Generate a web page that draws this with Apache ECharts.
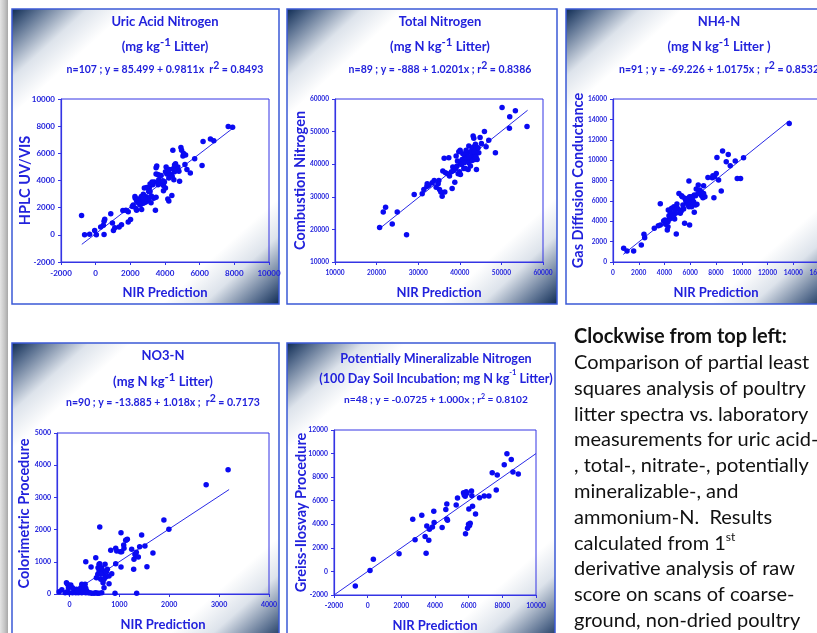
<!DOCTYPE html>
<html>
<head>
<meta charset="utf-8">
<title>NIR vs laboratory N</title>
<script src="https://cdn.jsdelivr.net/npm/echarts@6/dist/echarts.min.js"></script>
<style>
html, body { margin: 0; padding: 0; background: #fff; }
#main { width: 817px; height: 633px; }
</style>
</head>
<body>
<div id="main"></div>
<script>
// measured (lab) vs NIR predicted, one array per panel: [NIR, lab]
var uricPts = [[-813,1420],[-639,0],[-349,50],[-58,324],[39,0],[484,25],[445,698],[523,1146],[484,997],[871,1545],[968,872],[1026,324],[1103,523],[1491,748],[1568,1794],[1742,1819],[1878,947],[2013,1121],[2110,2093],[2168,2193],[2285,2692],[2362,1819],[2362,2492],[2517,2393],[2652,1869],[2672,2492],[2750,2991],[2808,3439],[2866,2393],[2943,2791],[3001,2492],[3098,3489],[3137,3190],[3195,2368],[3292,3688],[3350,2692],[3447,1819],[3485,2766],[3388,3888],[3485,4935],[3524,5059],[3582,4436],[3679,3888],[3776,4361],[3834,3738],[3911,3639],[4027,3439],[3969,3888],[4066,4985],[4163,2642],[4221,2492],[4260,4810],[4337,4436],[4395,2891],[4453,6231],[4511,4062],[4550,4635],[4608,5234],[4744,4985],[4841,3938],[4918,6430],[4957,6231],[5034,5807],[5189,5882],[5150,5184],[5266,4810],[5460,4561],[5712,5608],[6138,5109],[6196,6879],[6622,7053],[6816,6928],[7648,7975],[7899,7925],
  [2265,2816],[2459,2642],[2633,2816],[2750,2318],[3059,2642],[3214,2866],[2943,3489],[3137,3738],[3253,3888],[3640,4062],[3872,3988],[4105,4486],[4221,4187],[4414,4311],[4492,4885],[4647,4810],[4802,4686],[3911,3240],[3601,3688],[2323,1944],[2575,2193],[2866,2642],[1878,1695],[290,573],[1355,573],[4550,5134],[5073,5981],[3485,4486],[4027,4635],[4182,4735],[3679,4386],[2750,2741],[2478,2318],[3059,3190]];

var totalPts = [[20720,20620],[21600,25350],[22160,26790],[23760,21640],[24960,25350],[27200,18360],[29040,30690],[30960,30900],[31360,32230],[32160,33980],[32080,33160],[33840,35010],[34320,32950],[34960,35010],[35120,32230],[35440,31510],[35760,30180],[36400,31510],[35920,37890],[36240,41790],[37360,42000],[36560,37380],[37520,36350],[38160,32540],[38800,34490],[38560,38090],[39120,42510],[39360,39430],[39600,37070],[39920,37680],[40080,44260],[40160,40460],[40560,41480],[40960,38710],[41200,42510],[41360,40970],[41760,43540],[42000,38400],[42160,45600],[42320,41480],[42560,39430],[42800,42510],[42960,44570],[43200,48680],[43360,47960],[43600,43030],[43760,46110],[44000,44570],[44160,41480],[44000,38400],[44560,43540],[44880,48160],[45200,46320],[45920,50020],[46320,45390],[46960,47340],[48560,43540],[50160,57420],[51920,51050],[52000,54540],[53360,56390],[56160,51560],
  [38320,39120],[38960,38710],[39440,40970],[39760,43850],[40400,39940],[40720,43230],[41520,44260],[41760,41790],[42160,40460],[42640,43850],[42960,41170],[43280,45290],[43600,41480],[43920,45080],[44400,45080],[37040,37070],[38000,37680],[40160,36860],[41040,40460],[39120,39120],[34800,33980],[33360,34290],[32560,33570],[42160,42200],[41360,38710],[43360,43850],[43920,42200]];

var nh4Pts = [[828,1341],[1087,1079],[1604,1079],[2199,1668],[2406,2714],[2458,2387],[3208,3303],[3674,3630],[3674,5723],[3932,4022],[4087,3695],[4217,3139],[4269,3957],[4294,5101],[4450,4872],[4398,4218],[4553,5265],[4657,4349],[4734,5428],[4786,4218],[4915,2747],[4967,5690],[5122,6736],[5226,4774],[5303,5003],[5329,6507],[5484,5199],[5562,3793],[5588,6246],[5691,5853],[5820,5592],[5898,7946],[5950,3630],[6002,5984],[6079,5755],[6157,6180],[6260,5919],[6312,4872],[6416,6507],[6467,7161],[6519,5657],[6622,7554],[6726,7063],[6804,6736],[6881,6507],[6985,6311],[7037,7488],[7140,6409],[7373,8306],[7709,8273],[7838,6311],[7890,8371],[8020,8698],[8072,10268],[8201,8044],[8408,6965],[8511,10889],[8796,9843],[8951,10562],[9106,9450],[9494,9908],[9649,8208],[9908,8208],[10140,10235],[13685,13603],
  [5743,6180],[5898,5428],[6105,5428],[6209,5657],[5846,5853],[5950,6409],[5640,6082],[5381,6409],[5174,5101],[4863,4774],[4605,4676],[4346,4545],[4036,4120],[4812,5101],[6856,6900],[7037,6736],[7760,8469],[6312,6573],[6597,6736],[5433,5592],[4993,5265],[6416,5592],[4708,4545],[6105,6409],[3518,3564],[4269,3466]];

var no3Pts = [[-207,72],[-153,135],[-87,41],[-60,352],[-40,300],[-20,197],[27,280],[-7,41],[60,41],[93,93],[140,145],[180,41],[193,114],[227,197],[247,41],[273,93],[293,166],[313,300],[327,41],[347,93],[327,1004],[433,838],[447,21],[493,21],[527,1128],[560,21],[567,611],[593,921],[593,714],[607,2080],[607,942],[627,455],[647,41],[660,735],[673,352],[693,197],[693,611],[713,921],[727,528],[740,693],[760,766],[793,321],[827,1356],[847,631],[913,21],[927,1418],[927,942],[1020,1314],[1033,1904],[1033,838],[1047,1314],[1087,1521],[1127,1666],[1160,1697],[1247,1387],[1287,766],[1293,1076],[1313,1232],[1327,1201],[1347,21],[1380,1149],[1407,1470],[1447,1832],[1513,1490],[1553,849],[1673,1273],[1893,2298],[1993,2008],[2740,3395],[3180,3861],
  [60,197],[127,41],[380,41],[527,41],[593,21],[407,41],[540,507],[573,818],[647,818],[693,455],[793,559],[1093,1418],[1140,1677],[1340,1294],[627,611],[247,300],[160,93],[-47,72],[327,176],[947,1335]];

var pmnPts = [[-734,-1241],[139,85],[337,1043],[1865,1495],[2678,4427],[2817,2679],[3214,4766],[3412,2961],[3472,1551],[3512,3863],[3631,2651],[3670,3581],[3849,3779],[3928,5104],[3948,4145],[4424,3722],[4642,5245],[4702,5725],[4702,4456],[4742,4343],[5258,5640],[5337,6232],[5694,6683],[5793,6373],[5853,6768],[5813,3187],[5932,3666],[5992,4004],[6011,5302],[6091,4089],[6170,6824],[6190,6430],[6229,5527],[6408,4879],[6646,6260],[6924,6401],[7202,6401],[7400,8375],[7638,6909],[7698,8178],[8114,9052],[8273,9983],[8531,9503],[8630,8432],[8948,8263],[5893,6627],[6051,3891],[5734,6486]];

// fitted lines y = a + b*x, drawn over the x span given
var fitA = [85.499, -888, -69.226, -13.885, -0.0725];
var fitB = [0.9811, 1.0201, 1.0175, 1.018, 1.000];
var fitFrom = [-800, 20700, 800, 300, -2000];
var fitTo = [7900, 56300, 13700, 3200, 10000];

// axis scales
var xMin = [-2000, 10000, 0, -250, -2000];
var xMax = [10000, 60000, 16000, 4000, 10000];
var xStep = [2000, 10000, 2000, 1000, 2000];
var yMin = [-2000, 10000, 0, 0, -2000];
var yMax = [10000, 60000, 16000, 5000, 12000];
var yStep = [2000, 10000, 2000, 1000, 2000];
var no3XTicks = [0, 1000, 2000, 3000, 4000];

// texts
var titleMain = ['Uric Acid Nitrogen', 'Total Nitrogen', 'NH4-N', 'NO3-N', 'Potentially Mineralizable Nitrogen'];
var titleUnit = [['(mg kg', '-1', ' Litter)'], ['(mg N kg', '-1', ' Litter)'], ['(mg N kg', '-1', ' Litter )'],
                 ['(mg N kg', '-1', ' Litter)'], ['(100 Day Soil Incubation; mg N kg', '-1', ' Litter)']];
var titleStat = [['n=107 ; y = 85.499 + 0.9811x  r', '2', ' = 0.8493'],
                 ['n=89 ; y = -888 + 1.0201x ; r', '2', ' = 0.8386'],
                 ['n=91 ; y = -69.226 + 1.0175x ;  r', '2', ' = 0.8532'],
                 ['n=90 ; y = -13.885 + 1.018x ;  r', '2', ' = 0.7173'],
                 ['n=48 ; y = -0.0725 + 1.000x ; r', '2', ' = 0.8102']];
var yNames = ['HPLC UV/VIS', 'Combustion Nitrogen', 'Gas Diffusion Conductance', 'Colorimetric Procedure', 'Greiss-Ilosvay Procedure'];
var xName = 'NIR Prediction';
var noteLines = ['Clockwise from top left:', 'Comparison of partial least', 'squares analysis of poultry',
  'litter spectra vs. laboratory', 'measurements for uric acid-', ', total-, nitrate-, potentially',
  'mineralizable-, and', 'ammonium-N.  Results', 'calculated from 1', 'derivative analysis of raw',
  'score on scans of coarse-', 'ground, non-dried poultry'];

var allPts = [uricPts, totalPts, nh4Pts, no3Pts, pmnPts];

// page layout (pixels)
var boxes = [[12, 9, 267, 295], [287, 9, 270, 295], [566, 9, 262, 295], [12, 343, 267, 300], [287, 343, 268, 300]];
var plots = [[61, 99, 208, 163], [335, 99, 208, 163], [613, 99, 206, 163], [57, 433, 212, 161], [334, 430, 202, 165]];
var titleX = [165, 440, 719, 163, 436];
var titleY = [[21.5, 47, 70], [21.5, 47, 70], [21.5, 47, 70], [356, 382, 403], [359, 379, 400]];
var yNameX = [25, 300, 578, 24, 301];
var tickFont = [8, 6.6, 6.6, 7, 6.8];

var FONT = 'Lato';
var txtBlue = '#2222dc';
var axBlue = '#3434e4';
var dotBlue = '#0a0af2';

var grids = [], xAxes = [], yAxes = [], series = [], graphics = [];

// grey slide edge
graphics.push({
  type: 'rect', z: -30, shape: { x: 0, y: 0, width: 8, height: 633 },
  style: { fill: { type: 'linear', x: 0, y: 0, x2: 1, y2: 0,
    colorStops: [{ offset: 0, color: '#e4e4e4' }, { offset: 0.6, color: '#c4c4c4' }, { offset: 1, color: '#a8a8a8' }] } }
});

function supLine(parts, size, supSize, lift) {
  return {
    text: '{a|' + parts[0] + '}{s|' + parts[1] + '}{a|' + parts[2] + '}',
    rich: {
      a: { fontFamily: FONT, fontWeight: 'bold', fontSize: size, lineHeight: size + lift, fill: txtBlue },
      s: { fontFamily: FONT, fontWeight: 'bold', fontSize: supSize, lineHeight: supSize, verticalAlign: 'top', fill: txtBlue }
    }
  };
}

for (var i = 0; i < 5; i++) {
  var b = boxes[i], p = plots[i];
  graphics.push({
    type: 'rect', z: -20,
    shape: { x: b[0], y: b[1], width: b[2], height: b[3] },
    style: {
      fill: { type: 'linear', x: 0, y: 0, x2: 1, y2: 1, colorStops: [
        { offset: 0, color: '#0b2850' }, { offset: 0.05, color: '#5b7191' }, { offset: 0.13, color: '#dde3eb' },
        { offset: 0.2, color: '#ffffff' }, { offset: 0.8, color: '#ffffff' }, { offset: 0.87, color: '#dde3eb' },
        { offset: 0.95, color: '#5b7191' }, { offset: 1, color: '#0b2850' }] },
      stroke: '#3b5ad6', lineWidth: 1.5
    }
  });

  var big = i === 4 ? 12.6 : 13;
  var small = i === 4 ? 10.2 : 10.5;
  var unit = supLine(titleUnit[i], big, i === 4 ? 7.5 : 11.5, 8);
  var stat = i === 4 ? supLine(titleStat[i], small, 7, 4) : supLine(titleStat[i], small, 10.5, 9);
  graphics.push({ type: 'text', z: 50, x: titleX[i], y: titleY[i][0],
    style: { text: titleMain[i], fontFamily: FONT, fontWeight: 'bold', fontSize: big, fill: txtBlue, align: 'center', verticalAlign: 'middle' } });
  graphics.push({ type: 'text', z: 50, x: titleX[i], y: titleY[i][1],
    style: { text: unit.text, rich: unit.rich, align: 'center', verticalAlign: 'middle' } });
  graphics.push({ type: 'text', z: 50, x: titleX[i], y: titleY[i][2],
    style: { text: stat.text, rich: stat.rich, align: 'center', verticalAlign: 'middle' } });

  // rotated y-axis title
  graphics.push({ type: 'text', z: 50, x: yNameX[i], y: p[1] + p[3] / 2, rotation: Math.PI / 2,
    style: { text: yNames[i], fontFamily: FONT, fontWeight: 'bold', fontSize: 14.5, fill: txtBlue, align: 'center', verticalAlign: 'middle' } });

  grids.push({ left: p[0], top: p[1], width: p[2], height: p[3], show: true,
    borderColor: axBlue, borderWidth: 1, backgroundColor: 'transparent', containLabel: false, outerBoundsMode: 'none' });

  var lbl = { color: txtBlue, fontFamily: FONT, fontWeight: 'bold', fontSize: tickFont[i],
    showMinLabel: true, showMaxLabel: true, hideOverlap: false, formatter: function (v) { return String(v); } };
  var xa = {
    gridIndex: i, type: 'value', min: xMin[i], max: xMax[i],
    axisLine: { onZero: false, lineStyle: { color: axBlue, width: 1.2 } },
    axisTick: { show: true, inside: false, length: 3, lineStyle: { color: axBlue } },
    splitLine: { show: false },
    axisLabel: Object.assign({ margin: 7 }, lbl),
    name: xName, nameLocation: 'middle', nameGap: 24,
    nameTextStyle: { color: txtBlue, fontFamily: FONT, fontWeight: 'bold', fontSize: 13 }
  };
  if (i === 3) {
    xa.axisLabel.customValues = no3XTicks;
    xa.axisTick.customValues = no3XTicks;
  } else {
    xa.interval = xStep[i];
  }
  xAxes.push(xa);
  yAxes.push({
    gridIndex: i, type: 'value', min: yMin[i], max: yMax[i], interval: yStep[i],
    axisLine: { onZero: false, lineStyle: { color: axBlue, width: 1.2 } },
    axisTick: { show: true, inside: false, length: 3, lineStyle: { color: axBlue } },
    splitLine: { show: false },
    axisLabel: Object.assign({ margin: 6 }, lbl)
  });

  series.push({
    type: 'scatter', xAxisIndex: i, yAxisIndex: i, data: allPts[i],
    symbol: 'circle', symbolSize: 5.5, itemStyle: { color: dotBlue, opacity: 1 }, z: 4, silent: true
  });
  series.push({
    type: 'line', xAxisIndex: i, yAxisIndex: i, z: 3, silent: true,
    data: [[fitFrom[i], fitA[i] + fitB[i] * fitFrom[i]], [fitTo[i], fitA[i] + fitB[i] * fitTo[i]]],
    showSymbol: false, symbol: 'none', lineStyle: { color: '#2a2ae6', width: 1 }
  });
}

// caption at the right
for (var k = 0; k < noteLines.length; k++) {
  var st = { text: noteLines[k], fontFamily: FONT, fontSize: 20, fill: '#111111', verticalAlign: 'middle' };
  if (k === 0) st.fontWeight = 'bold';
  if (k === 8) {
    st = { text: '{n|' + noteLines[k] + '}{s|st}', verticalAlign: 'middle', rich: {
      n: { fontFamily: FONT, fontSize: 20, lineHeight: 24, fill: '#111111' },
      s: { fontFamily: FONT, fontSize: 12, lineHeight: 12, verticalAlign: 'top', fill: '#111111' } } };
  }
  graphics.push({ type: 'text', z: 50, x: 574, y: 336.7 + k * 25.8, style: st });
}

var chart = echarts.init(document.getElementById('main'), null, { renderer: 'canvas' });
chart.setOption({
  backgroundColor: '#ffffff',
  animation: false,
  grid: grids,
  xAxis: xAxes,
  yAxis: yAxes,
  series: series,
  graphic: { elements: graphics }
});
</script>
</body>
</html>
